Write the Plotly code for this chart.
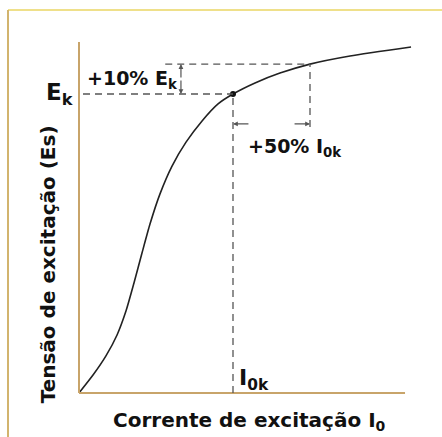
import plotly.graph_objects as go

# Magnetisation curve, normalised so that the knee point is at (I0k, Ek) = (1, 1)
corrente = [0, 0.091, 0.175, 0.247, 0.305, 0.357, 0.409, 0.461, 0.526, 0.604,
            0.695, 0.799, 0.903, 1.0, 1.143, 1.305, 1.5, 1.76, 2.156]
tensao = [0, 0.060, 0.124, 0.194, 0.274, 0.368, 0.468, 0.565, 0.666, 0.759,
          0.839, 0.910, 0.967, 1.0, 1.037, 1.070, 1.1, 1.127, 1.157]

I0k = 1.0
Ek = 1.0
ganho_tensao = 0.10   # +10 % Ek
ganho_corrente = 0.50  # +50 % I0k

I_max = I0k * (1 + ganho_corrente)
E_max = Ek * (1 + ganho_tensao)

FONT = "DejaVu Sans, Liberation Sans, sans-serif"
INK = "#111111"
DASH_COLOR = "#555555"
AXIS_COLOR = "#c8a46a"


def fonte(size):
    return dict(family=FONT, size=size, color=INK, weight="bold")


fig = go.Figure()

# saturation curve
fig.add_trace(go.Scatter(
    x=corrente, y=tensao, mode="lines",
    line=dict(color="#222222", width=1.6, shape="spline", smoothing=0.6),
    hoverinfo="skip", showlegend=False,
))

# knee point
fig.add_trace(go.Scatter(
    x=[I0k], y=[Ek], mode="markers",
    marker=dict(color="#111111", size=6),
    hoverinfo="skip", showlegend=False,
))

dash = dict(color=DASH_COLOR, width=1.3, dash="7px,5px")
shapes = [
    # axes
    dict(type="line", xref="x", yref="y", x0=0, x1=2.117, y0=0, y1=0,
         line=dict(color=AXIS_COLOR, width=2)),
    dict(type="line", xref="x", yref="y", x0=0, x1=0, y0=0, y1=1.174,
         line=dict(color=AXIS_COLOR, width=2)),
    # guide lines at the knee point and at +10 % / +50 %
    dict(type="line", xref="x", yref="y", x0=0.026, x1=I0k, y0=Ek, y1=Ek, line=dash),
    dict(type="line", xref="x", yref="y", x0=I0k, x1=I0k, y0=0, y1=Ek, line=dash),
    dict(type="line", xref="x", yref="y", x0=0.56, x1=I_max, y0=E_max, y1=E_max, line=dash),
    dict(type="line", xref="x", yref="y", x0=I_max, x1=I_max, y0=0.89, y1=E_max, line=dash),
    # outer frame
    dict(type="line", xref="paper", yref="paper", x0=8 / 442, x1=1, y0=1 - 10 / 437, y1=1 - 10 / 437,
         line=dict(color="#efe08a", width=2)),
    dict(type="line", xref="paper", yref="paper", x0=8 / 442, x1=8 / 442, y0=0, y1=1 - 10 / 437,
         line=dict(color="#d2b46e", width=2)),
]

annotations = [
    dict(x=-0.225, y=Ek, text="E<sub>k</sub>", xanchor="left", yanchor="middle", font=fonte(23)),
    dict(x=0.039, y=1.05, text="+10% E<sub>k</sub>", xanchor="left", yanchor="middle", font=fonte(19)),
    dict(x=1.084, y=0.82, text="+50% I<sub>0k</sub>", xanchor="left", yanchor="middle", font=fonte(19)),
    dict(x=1.026, y=0.045, text="I<sub>0k</sub>", xanchor="left", yanchor="middle", font=fonte(22)),
    dict(x=1.11, y=-0.092, text="Corrente de excitação I<sub>0</sub>", xanchor="center", yanchor="middle",
         font=fonte(20)),
    dict(x=-0.2, y=0.431, text="Tensão de excitação (Es)", textangle=-90, xanchor="center", yanchor="middle",
         font=fonte(20)),
]

arrow = dict(showarrow=True, arrowhead=2, arrowsize=0.8, arrowwidth=1.2, arrowcolor=DASH_COLOR,
             xref="x", yref="y", axref="x", ayref="y", text="")
annotations += [
    # +50 % I0k span
    dict(arrow, x=I0k, y=0.90, ax=1.11, ay=0.90),
    dict(arrow, x=I_max, y=0.90, ax=1.39, ay=0.90),
    # +10 % Ek span
    dict(arrow, x=0.662, y=E_max, ax=0.662, ay=1.05),
    dict(arrow, x=0.662, y=Ek, ax=0.662, ay=1.05),
]
for a in annotations:
    a.setdefault("showarrow", False)

fig.update_layout(
    width=442, height=437,
    margin=dict(l=0, r=0, t=0, b=0),
    paper_bgcolor="white", plot_bgcolor="white",
    xaxis=dict(range=[-79 / 154, 363 / 154], visible=False, fixedrange=True),
    yaxis=dict(range=[-44 / 299, 393 / 299], visible=False, fixedrange=True),
    shapes=shapes, annotations=annotations,
)

fig.write_html("out.html")
